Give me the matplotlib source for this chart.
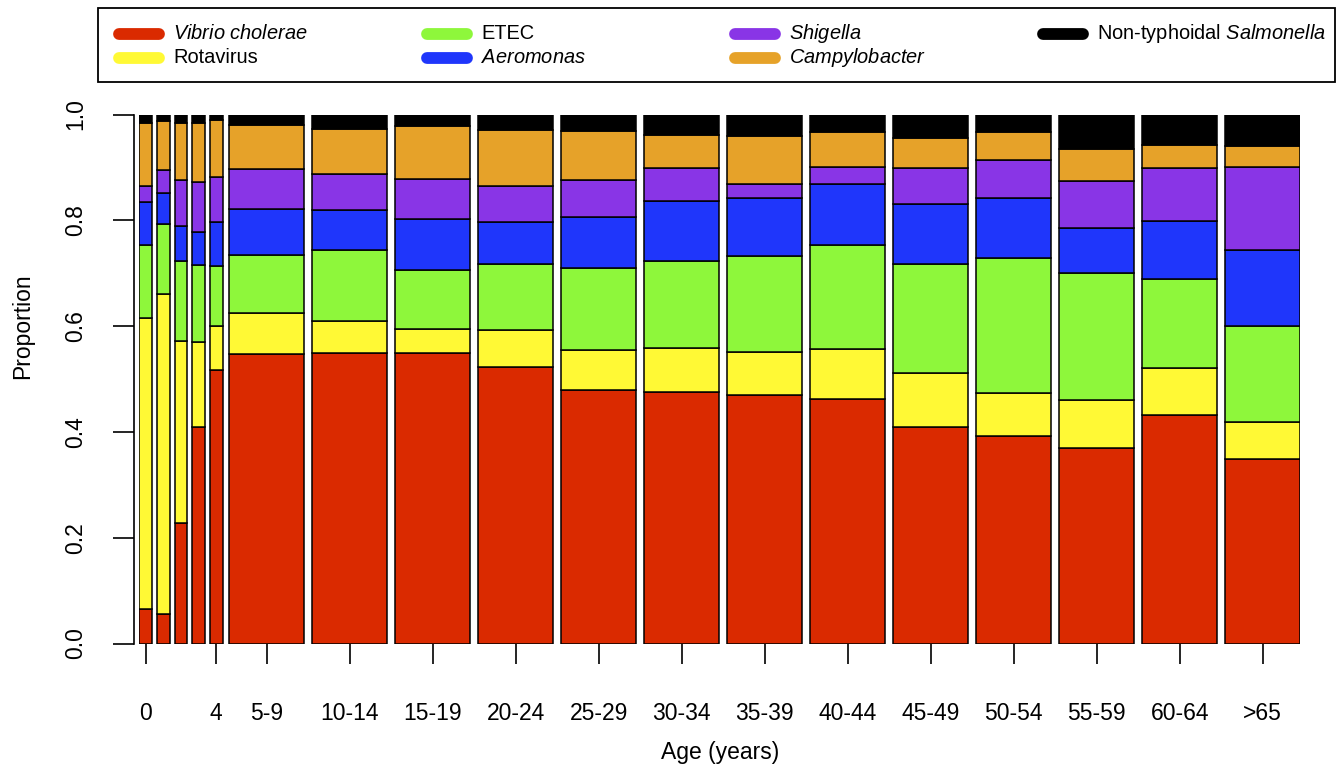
import numpy as np
import matplotlib.pyplot as plt
from matplotlib.lines import Line2D
from matplotlib.patches import Rectangle

plt.rcParams['font.family'] = 'Liberation Sans'
plt.rcParams['mathtext.fontset'] = 'custom'
plt.rcParams['mathtext.rm'] = 'Liberation Sans'
plt.rcParams['mathtext.it'] = 'Liberation Sans:italic'

# age groups (single years 0-4, then 5-year bands)
ages = ['0', '1', '2', '3', '4', '5-9', '10-14', '15-19', '20-24', '25-29',
        '30-34', '35-39', '40-44', '45-49', '50-54', '55-59', '60-64', '>65']

# proportion of each pathogen per age group
vibrio = [0.066, 0.055, 0.228, 0.410, 0.517, 0.547, 0.550, 0.549, 0.523,
          0.479, 0.476, 0.470, 0.462, 0.409, 0.392, 0.370, 0.432, 0.349]
rotavirus = [0.550, 0.606, 0.344, 0.159, 0.084, 0.078, 0.060, 0.046, 0.070,
             0.075, 0.082, 0.081, 0.095, 0.103, 0.082, 0.090, 0.089, 0.070]
etec = [0.137, 0.132, 0.152, 0.146, 0.113, 0.109, 0.134, 0.111, 0.124,
        0.155, 0.166, 0.181, 0.196, 0.205, 0.255, 0.240, 0.168, 0.182]
aeromonas = [0.081, 0.059, 0.065, 0.063, 0.083, 0.087, 0.075, 0.096, 0.079,
             0.098, 0.113, 0.111, 0.116, 0.113, 0.113, 0.085, 0.109, 0.142]
shigella = [0.030, 0.043, 0.087, 0.095, 0.085, 0.076, 0.068, 0.077, 0.068,
            0.070, 0.061, 0.026, 0.032, 0.069, 0.072, 0.089, 0.101, 0.157]
campylobacter = [0.119, 0.093, 0.108, 0.110, 0.108, 0.084, 0.086, 0.100, 0.107,
                 0.091, 0.063, 0.090, 0.065, 0.057, 0.052, 0.061, 0.043, 0.041]
salmonella = [0.017, 0.012, 0.016, 0.017, 0.010, 0.019, 0.027, 0.021, 0.029,
              0.032, 0.039, 0.041, 0.034, 0.044, 0.034, 0.065, 0.058, 0.059]

series = [vibrio, rotavirus, etec, aeromonas, shigella, campylobacter, salmonella]
names = [r'$\mathit{Vibrio\ cholerae}$', 'Rotavirus', 'ETEC',
         r'$\mathit{Aeromonas}$', r'$\mathit{Shigella}$',
         r'$\mathit{Campylobacter}$', r'Non-typhoidal $\mathit{Salmonella}$']
colors = ['#DA2A00', '#FFF935', '#8EF73B', '#1F36FB', '#8935E6', '#E6A229', '#000000']

# bar layout: narrow bars for single years, wide bars for 5-year bands
n_single = 5
widths = np.array([0.843] * n_single + [4.92] * (len(ages) - n_single))
gaps = np.array([0] + [0.307] * (n_single - 1) + [0.413] + [0.505] * (len(ages) - n_single - 1))
lefts = np.cumsum(gaps) + np.concatenate([[0], np.cumsum(widths[:-1])])
centers = lefts + widths / 2
x_max = lefts[-1] + widths[-1]

fig = plt.figure(figsize=(13.43, 7.65), dpi=100)
ax = fig.add_axes([139.4 / 1343, 121.5 / 765, x_max * 15.3 / 1343, 529 / 765])

bottom = np.zeros(len(ages))
for vals, c in zip(series, colors):
    ax.bar(lefts, vals, width=widths, bottom=bottom, align='edge',
           color=c, edgecolor='black', linewidth=1.1)
    bottom += np.array(vals)

ax.set_xlim(0, x_max)
ax.set_ylim(0, 1)

for s in ['top', 'right', 'bottom']:
    ax.spines[s].set_visible(False)
ax.spines['left'].set_position(('outward', 3.9))
ax.spines['left'].set_bounds(0, 1)
ax.spines['left'].set_linewidth(1.2)

ax.set_yticks(np.arange(0, 1.01, 0.2))
ax.set_yticklabels(['%.1f' % v for v in np.arange(0, 1.01, 0.2)])
ax.tick_params(axis='y', length=15, width=1.2, pad=19, labelsize=16.5, labelrotation=90)
for lbl in ax.get_yticklabels():
    lbl.set_va('center')

shown = [i for i, a in enumerate(ages) if a not in ('1', '2', '3')]
ax.set_xticks(centers[shown])
ax.set_xticklabels([ages[i] for i in shown])
ax.tick_params(axis='x', length=14.4, width=1.2, pad=28, labelsize=16.5)

ax.set_xlabel('Age (years)', fontsize=16.5, va='center')
ax.xaxis.set_label_coords(0.5, (643.5 - 753) / 529)
ax.set_ylabel('Proportion', fontsize=16.5, va='center', ha='center')
ax.yaxis.set_label_coords((23 - 139.4) / (x_max * 15.3), (643.5 - 326) / 529)

# legend box drawn in pixel coordinates
lax = fig.add_axes([0, 0, 1, 1])
lax.set_xlim(0, 1343)
lax.set_ylim(765, 0)
lax.axis('off')
lax.add_patch(Rectangle((98, 8), 1237, 74, fill=False, lw=1.3, edgecolor='black'))
for k, (name, c) in enumerate(zip(names, colors)):
    col, row = k // 2, k % 2
    xc = 139 + 308 * col
    yc = 33.5 + 24 * row
    lax.add_line(Line2D([xc - 20, xc + 20], [yc, yc], color=c, lw=8.5,
                        solid_capstyle='round'))
    lax.text(173 + 308 * col, yc, name, fontsize=14.4, va='center', ha='left')

fig.savefig('out.png', dpi=100)
